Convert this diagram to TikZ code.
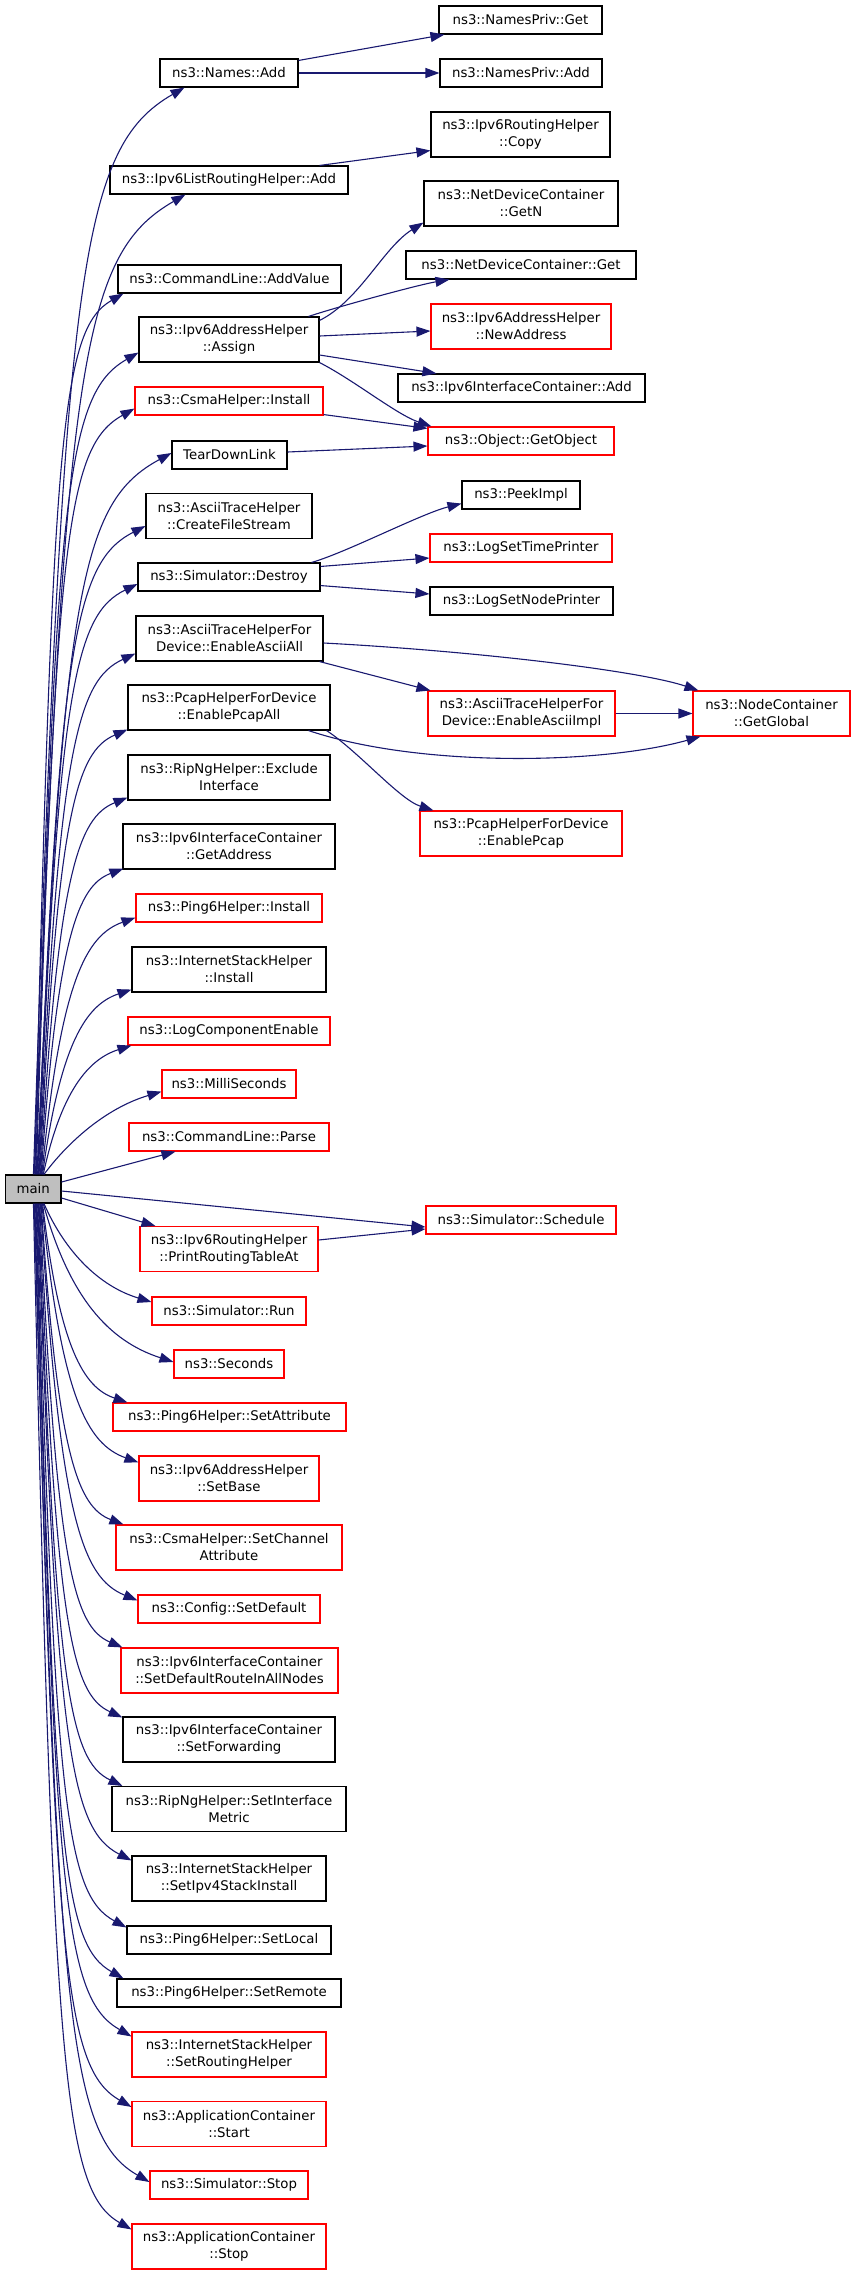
\documentclass[tikz,border=0pt]{standalone}
\usepackage{fontspec}
\setmainfont{DejaVu Sans}
\usetikzlibrary{arrows.meta,calc}
\definecolor{navy}{HTML}{191970}
\definecolor{mgrey}{HTML}{BFBFBF}
\tikzset{
  box/.style={draw=black, fill=white, line width=1.1pt, inner sep=0pt, align=center,
    font=\fontsize{13.3}{17}\selectfont, minimum height=28pt},
  rbox/.style={box, draw=red},
  tall/.style={minimum height=45pt},
  edge/.style={draw=navy, line width=1.1pt, -{Triangle[length=14pt,width=10pt]}},
}
\newcommand\upedge[2]{%
  \draw[edge] let \p1=#1, \p2=#2,
    \n1={\x2-\x1}, \n2={\y2-\y1},
    \n3={min(1,\n2/800)},
    \n4={\n1*(0.45+0.25*\n3)},
    \n5={\n4*tan(15+15*\n3)},
    \n6={0.88*\n2-0.35*\n1},
    \n7={0.2*\n1}
  in (\p1) .. controls +(\n7,\n6) and +(-\n4,-\n5) .. (\p2);}
\newcommand\downedge[2]{%
  \draw[edge] let \p1=#1, \p2=#2,
    \n1={\x2-\x1}, \n2={\y1-\y2},
    \n3={min(1,\n2/800)},
    \n4={\n1*(0.45+0.25*\n3)},
    \n5={\n4*tan(15+15*\n3)},
    \n6={0.88*\n2-0.35*\n1},
    \n7={0.2*\n1}
  in (\p1) .. controls +(\n7,-\n6) and +(-\n4,\n5) .. (\p2);}
\begin{document}
\begin{tikzpicture}[x=1pt,y=-1pt]
\useasboundingbox (0,0) rectangle (856,2275);
% rank 2
\node[box, minimum width=163pt] (npget) at (520.5,20) {ns3::NamesPriv::Get};
\node[box, minimum width=162pt] (npadd) at (521,73) {ns3::NamesPriv::Add};
\node[box, tall, minimum width=179pt] (copy) at (520.5,134.5) {ns3::Ipv6RoutingHelper\\::Copy};
\node[box, tall, minimum width=194pt] (getn) at (521,203.5) {ns3::NetDeviceContainer\\::GetN};
\node[box, minimum width=230pt] (ndcget) at (521,265) {ns3::NetDeviceContainer::Get};
\node[rbox, tall, minimum width=180pt] (newaddr) at (521,326.5) {ns3::Ipv6AddressHelper\\::NewAddress};
\node[box, minimum width=247pt] (ifcadd) at (521.5,388) {ns3::Ipv6InterfaceContainer::Add};
\node[rbox, minimum width=186pt] (getobj) at (521,441) {ns3::Object::GetObject};
\node[box, minimum width=118pt] (peek) at (521,495) {ns3::PeekImpl};
\node[rbox, minimum width=182pt] (timeprinter) at (521,548) {ns3::LogSetTimePrinter};
\node[box, minimum width=183pt] (nodeprinter) at (521.5,601) {ns3::LogSetNodePrinter};
\node[rbox, tall, minimum width=187pt] (asciiimpl) at (521.5,713.5) {ns3::AsciiTraceHelperFor\\Device::EnableAsciiImpl};
\node[rbox, tall, minimum width=157pt] (getglobal) at (771.5,713.5) {ns3::NodeContainer\\::GetGlobal};
\node[rbox, tall, minimum width=202pt] (enablepcap) at (521,833.5) {ns3::PcapHelperForDevice\\::EnablePcap};
\node[rbox, minimum width=190pt] (schedule) at (521,1220) {ns3::Simulator::Schedule};
% rank 1
\node[box, minimum width=138pt] (namesadd) at (229,73) {ns3::Names::Add};
\node[box, minimum width=238pt] (listadd) at (229,180) {ns3::Ipv6ListRoutingHelper::Add};
\node[box, minimum width=223pt] (addvalue) at (229.5,279) {ns3::CommandLine::AddValue};
\node[box, tall, minimum width=180pt] (assign) at (229,339.5) {ns3::Ipv6AddressHelper\\::Assign};
\node[rbox, minimum width=188pt] (csmainst) at (229,401) {ns3::CsmaHelper::Install};
\node[box, minimum width=115pt] (teardown) at (229.5,455) {TearDownLink};
\node[box, tall, minimum width=166pt] (cfs) at (229,516) {ns3::AsciiTraceHelper\\::CreateFileStream};
\node[box, minimum width=182pt] (destroy) at (229,577) {ns3::Simulator::Destroy};
\node[box, tall, minimum width=187pt] (asciiall) at (229.5,638.5) {ns3::AsciiTraceHelperFor\\Device::EnableAsciiAll};
\node[box, tall, minimum width=202pt] (pcapall) at (229,707.5) {ns3::PcapHelperForDevice\\::EnablePcapAll};
\node[box, tall, minimum width=202pt] (exclude) at (229,777.5) {ns3::RipNgHelper::Exclude\\Interface};
\node[box, tall, minimum width=212pt] (getaddr) at (229,846.5) {ns3::Ipv6InterfaceContainer\\::GetAddress};
\node[rbox, minimum width=186pt] (p6install) at (229,908) {ns3::Ping6Helper::Install};
\node[box, tall, minimum width=194pt] (ishinstall) at (229,969.5) {ns3::InternetStackHelper\\::Install};
\node[rbox, minimum width=202pt] (logcomp) at (229,1031) {ns3::LogComponentEnable};
\node[rbox, minimum width=134pt] (milli) at (229,1084) {ns3::MilliSeconds};
\node[rbox, minimum width=200pt] (parse) at (229,1137) {ns3::CommandLine::Parse};
\node[rbox, tall, minimum width=178pt] (printrt) at (229,1249) {ns3::Ipv6RoutingHelper\\::PrintRoutingTableAt};
\node[rbox, minimum width=154pt] (run) at (229,1311) {ns3::Simulator::Run};
\node[rbox, minimum width=110pt] (seconds) at (229,1364) {ns3::Seconds};
\node[rbox, minimum width=233pt] (setattr) at (229.5,1417) {ns3::Ping6Helper::SetAttribute};
\node[rbox, tall, minimum width=180pt] (setbase) at (229,1478.5) {ns3::Ipv6AddressHelper\\::SetBase};
\node[rbox, tall, minimum width=226pt] (setchan) at (229,1547.5) {ns3::CsmaHelper::SetChannel\\Attribute};
\node[rbox, minimum width=182pt] (setdefault) at (229,1609) {ns3::Config::SetDefault};
\node[rbox, tall, minimum width=217pt] (setdefroute) at (229.5,1670.5) {ns3::Ipv6InterfaceContainer\\::SetDefaultRouteInAllNodes};
\node[box, tall, minimum width=212pt] (setfwd) at (229,1739.5) {ns3::Ipv6InterfaceContainer\\::SetForwarding};
\node[box, tall, minimum width=234pt] (setmetric) at (229,1809) {ns3::RipNgHelper::SetInterface\\Metric};
\node[box, tall, minimum width=194pt] (setipv4) at (229,1878.5) {ns3::InternetStackHelper\\::SetIpv4StackInstall};
\node[box, minimum width=204pt] (setlocal) at (229,1940) {ns3::Ping6Helper::SetLocal};
\node[box, minimum width=224pt] (setremote) at (229,1993) {ns3::Ping6Helper::SetRemote};
\node[rbox, tall, minimum width=194pt] (setrouting) at (229,2054.5) {ns3::InternetStackHelper\\::SetRoutingHelper};
\node[rbox, tall, minimum width=194pt] (appstart) at (229,2124) {ns3::ApplicationContainer\\::Start};
\node[rbox, minimum width=158pt] (simstop) at (229,2185) {ns3::Simulator::Stop};
\node[rbox, tall, minimum width=194pt] (appstop) at (229,2246.5) {ns3::ApplicationContainer\\::Stop};
% main
\node[box, fill=mgrey, minimum width=55.5pt] (main) at (33.25,1189) {main};

% edges from main, upwards
\upedge{([xshift=28.5pt]main.north west)}{([xshift=25pt]namesadd.south west)}
\upedge{([xshift=29.2pt]main.north west)}{([xshift=76pt]listadd.south west)}
\upedge{([xshift=29.9pt]main.north west)}{([xshift=6pt]addvalue.south west)}
\upedge{([xshift=30.6pt]main.north west)}{([yshift=10pt]assign.south west)}
\upedge{([xshift=31.3pt]main.north west)}{([yshift=7pt]csmainst.south west)}
\upedge{([xshift=32pt]main.north west)}{([yshift=2pt]teardown.west)}
\upedge{([xshift=32.7pt]main.north west)}{([yshift=-10pt]cfs.west)}
\upedge{([xshift=33.4pt]main.north west)}{([yshift=-7pt]destroy.west)}
\upedge{([xshift=34.1pt]main.north west)}{([yshift=8pt]asciiall.south west)}
\upedge{([xshift=34.8pt]main.north west)}{([yshift=1pt]pcapall.south west)}
\upedge{([xshift=35.5pt]main.north west)}{([yshift=3pt]exclude.south west)}
\upedge{([xshift=36.2pt]main.north west)}{([xshift=1pt,yshift=1pt]getaddr.south west)}
\upedge{([xshift=36.9pt]main.north west)}{([yshift=5pt]p6install.south west)}
\upedge{([xshift=37.6pt]main.north west)}{([yshift=3pt]ishinstall.south west)}
\upedge{([xshift=38.3pt]main.north west)}{([xshift=4pt]logcomp.south west)}
\upedge{([xshift=39pt]main.north west)}{([yshift=7pt]milli.south west)}
% straight ones
\draw[edge] ([yshift=7pt]main.east) -- ([xshift=47pt]parse.south west);
\draw[edge] ([yshift=-2pt]main.east) -- ([yshift=-7pt]schedule.west);
\draw[edge] ([yshift=-9pt]main.east) -- ([xshift=16pt]printrt.north west);
% downwards
\downedge{([xshift=39pt]main.south west)}{([yshift=9pt]run.west)}
\downedge{([xshift=38.3pt]main.south west)}{([yshift=2pt]seconds.west)}
\downedge{([xshift=37.6pt]main.south west)}{([xshift=15pt]setattr.north west)}
\downedge{([xshift=36.9pt]main.south west)}{([yshift=-7pt]setbase.north west)}
\downedge{([xshift=36.2pt]main.south west)}{([xshift=8pt]setchan.north west)}
\downedge{([xshift=35.5pt]main.south west)}{([yshift=-6pt]setdefault.north west)}
\downedge{([xshift=34.8pt]main.south west)}{([xshift=2pt]setdefroute.north west)}
\downedge{([xshift=34.1pt]main.south west)}{([yshift=-1pt]setfwd.north west)}
\downedge{([xshift=33.4pt]main.south west)}{([xshift=11pt]setmetric.north west)}
\downedge{([xshift=32.7pt]main.south west)}{([yshift=-5pt]setipv4.north west)}
\downedge{([xshift=32pt]main.south west)}{([yshift=-2pt]setlocal.north west)}
\downedge{([xshift=31.3pt]main.south west)}{([xshift=7pt]setremote.north west)}
\downedge{([xshift=30.6pt]main.south west)}{([yshift=-5pt]setrouting.north west)}
\downedge{([xshift=29.9pt]main.south west)}{([yshift=-6pt]appstart.north west)}
\downedge{([xshift=29.2pt]main.south west)}{([yshift=3pt]simstop.west)}
\downedge{([xshift=28.5pt]main.south west)}{([yshift=-6pt]appstop.north west)}

% second level edges
\draw[edge] ([yshift=-2pt]namesadd.north east) -- ([xshift=6pt]npget.south west);
\draw[edge] (namesadd.east) -- (npadd.west);
\draw[edge] ([xshift=-29pt]listadd.north east) -- ([yshift=7pt]copy.south west);
\draw[edge] ([yshift=-4pt]assign.north east) .. controls +(40pt,20pt) and +(-40pt,-25pt) .. ([yshift=4pt]getn.south west);
\draw[edge] ([xshift=-11pt]assign.north east) .. controls +(30pt,10pt) and +(-30pt,-5pt) .. ([xshift=44pt]ndcget.south west);
\draw[edge] ([yshift=3.5pt]assign.east) -- ([yshift=-4.5pt]newaddr.west);
\draw[edge] ([yshift=-15.5pt]assign.east) -- ([xshift=39pt]ifcadd.north west);
\draw[edge] (assign.south east) .. controls +(35pt,-18pt) and +(-35pt,12pt) .. ([xshift=4pt]getobj.north west);
\draw[edge] ([yshift=1pt]csmainst.south east) -- ([yshift=-2pt]getobj.north west);
\draw[edge] ([yshift=3pt]teardown.east) -- ([yshift=-5pt]getobj.west);
\draw[edge] ([xshift=-9pt]destroy.north east) .. controls +(35pt,10pt) and +(-40pt,-10pt) .. ([yshift=6pt]peek.south west);
\draw[edge] ([yshift=-4pt]destroy.north east) -- ([yshift=-10pt]timeprinter.west);
\draw[edge] ([yshift=6pt]destroy.south east) -- ([yshift=7pt]nodeprinter.west);
\draw[edge] ([yshift=-4.5pt]asciiall.east) .. controls +(150pt,-8pt) and +(-60pt,20pt) .. ([xshift=6pt]getglobal.north west);
\draw[edge] ([xshift=-4pt]asciiall.south east) -- ([xshift=3pt]asciiimpl.north west);
\draw[edge] (asciiimpl.east) -- (getglobal.west);
\draw[edge] ([xshift=-22pt]pcapall.south east) .. controls +(110pt,-37pt) and +(-100pt,-28pt) .. ([xshift=8pt]getglobal.south west);
\draw[edge] ([xshift=-4pt]pcapall.south east) .. controls +(32pt,-21pt) and +(-34pt,11pt) .. ([xshift=14pt]enablepcap.north west);
\draw[edge] ([yshift=9pt]printrt.east) -- ([yshift=-9pt]schedule.west);
\end{tikzpicture}
\end{document}
